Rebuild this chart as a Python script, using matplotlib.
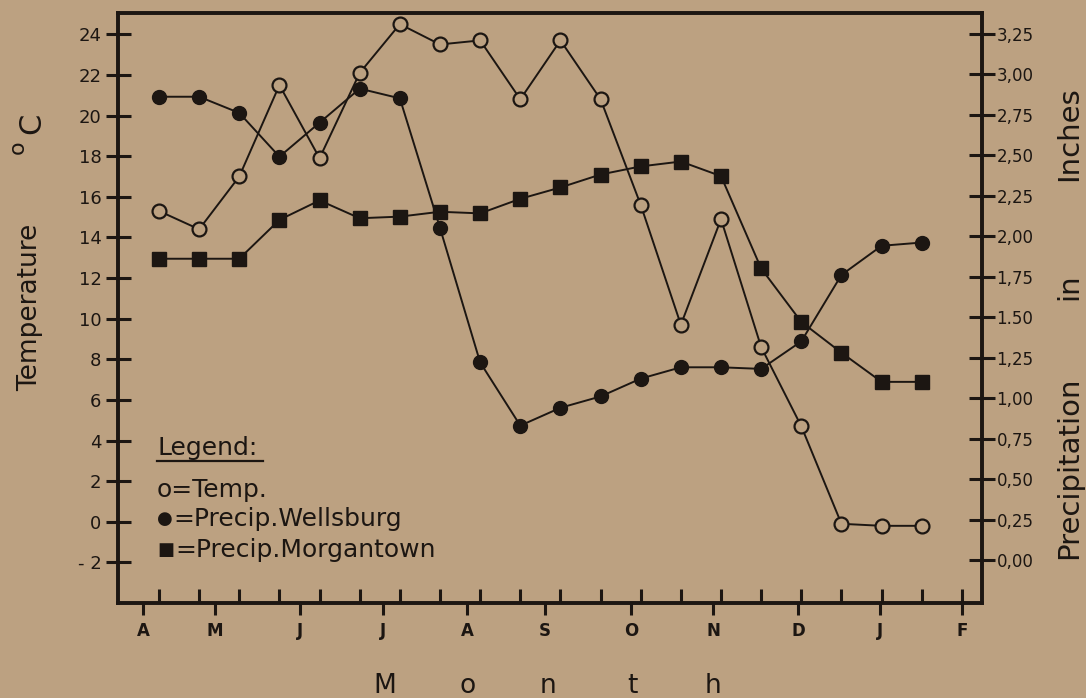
import matplotlib.pyplot as plt
from matplotlib.lines import Line2D
from matplotlib.ticker import FixedLocator
import numpy as np

# Biweekly readings, April through January
temp_c = [15.3, 14.4, 17.0, 21.5, 17.9, 22.1, 24.5, 23.5, 23.7, 20.8,
          23.7, 20.8, 15.6, 9.7, 14.9, 8.6, 4.7, -0.1, -0.2, -0.2]
precip_wellsburg = [2.86, 2.86, 2.76, 2.49, 2.70, 2.91, 2.85, 2.05, 1.22, 0.83,
                    0.94, 1.01, 1.12, 1.19, 1.19, 1.18, 1.35, 1.76, 1.94, 1.96]
precip_morgantown = [1.86, 1.86, 1.86, 2.10, 2.22, 2.11, 2.12, 2.15, 2.14, 2.23,
                     2.30, 2.38, 2.43, 2.46, 2.37, 1.80, 1.47, 1.28, 1.10, 1.10]

month_labels = ["A", "M", "J", "J", "A", "S", "O", "N", "D", "J", "F"]
month_pos = [-0.40, 1.39, 3.51, 5.58, 7.67, 9.61, 11.76, 13.80, 15.92, 17.96, 20.0]

temp_ticks = [-2, 0, 2, 4, 6, 8, 10, 12, 14, 16, 18, 20, 22, 24]
temp_tick_labels = ["- 2", "0", "2", "4", "6", "8", "10", "12", "14", "16",
                    "18", "20", "22", "24"]
precip_ticks = [0.0, 0.25, 0.5, 0.75, 1.0, 1.25, 1.5, 1.75, 2.0, 2.25, 2.5,
                2.75, 3.0, 3.25]
precip_tick_labels = ["0,00", "0,25", "0,50", "0,75", "1,00", "1,25", "1.50",
                      "1,75", "2,00", "2,25", "2,50", "2,75", "3,00", "3,25"]

BG = "#bca181"
INK = "#1c1612"

plt.rcParams["font.family"] = ["DejaVu Sans"]
plt.rcParams["text.color"] = INK

fig = plt.figure(figsize=(10.86, 6.98), dpi=100, facecolor=BG)
ax = fig.add_axes([0.1087, 0.1361, 0.7955, 0.8453], facecolor=BG)
ax2 = ax.twinx()

x = np.arange(len(temp_c))

ax.plot(x, temp_c, color=INK, lw=1.4, marker="o", ms=10,
        mfc=BG, mec=INK, mew=1.6, zorder=3)
ax2.plot(x, precip_wellsburg, color=INK, lw=1.4, marker="o", ms=10,
         mfc=INK, mec=INK, zorder=3)
ax2.plot(x, precip_morgantown, color=INK, lw=1.4, marker="s", ms=9.5,
         mfc=INK, mec=INK, zorder=3)

ax.set_xlim(-1.02, 20.5)
ax.set_ylim(-4, 25.05)
ax2.set_ylim(-0.265, 3.377)

# month marks point down, sampling marks point up
ax.xaxis.remove_overlapping_locs = False
ax.set_xticks(month_pos)
ax.set_xticklabels(month_labels, fontsize=12, fontweight="bold", color=INK)
ax.xaxis.set_minor_locator(FixedLocator(np.arange(len(temp_c) + 1)))
ax.tick_params(axis="x", which="major", direction="out", length=8.5,
               width=2.2, pad=5, color=INK)
ax.tick_params(axis="x", which="minor", direction="in", length=10,
               width=2.2, color=INK)

ax.set_yticks(temp_ticks)
ax.set_yticklabels(temp_tick_labels, fontsize=13, color=INK)
ax.tick_params(axis="y", direction="inout", length=18, width=2.2, pad=3,
               color=INK)

ax2.set_yticks(precip_ticks)
ax2.set_yticklabels(precip_tick_labels, fontsize=12, color=INK)
ax2.tick_params(axis="y", direction="inout", length=19, width=2.2, pad=1,
                color=INK)

for a in (ax, ax2):
    for sp in a.spines.values():
        sp.set_linewidth(2.6)
        sp.set_color(INK)

# axis titles
fig.text(0.0276, 0.560, "Temperature", rotation=90, fontsize=19,
         ha="center", va="center")
fig.text(0.0295, 0.824, "C", rotation=90, fontsize=22, ha="center", va="center")
fig.text(0.0165, 0.789, "o", rotation=90, fontsize=16, ha="center", va="center")

fig.text(0.9845, 0.330, "Precipitation", rotation=90, fontsize=21,
         ha="center", va="center")
fig.text(0.9845, 0.589, "in", rotation=90, fontsize=21, ha="center", va="center")
fig.text(0.9845, 0.808, "Inches", rotation=90, fontsize=21,
         ha="center", va="center")

for letter, xp in zip("Month", [385, 468, 548, 632, 713]):
    fig.text(xp / 1086, 1 - 693 / 698, letter, fontsize=19,
             ha="center", va="baseline")

# hand-lettered key in the lower left corner
lx = 157 / 1086
fig.text(lx, 1 - 455 / 698, "Legend:", fontsize=18, va="baseline")
fig.add_artist(Line2D([lx, 263 / 1086], [1 - 461 / 698, 1 - 461 / 698],
                      color=INK, lw=1.6))
fig.text(lx, 1 - 497 / 698, "o=Temp.", fontsize=18, va="baseline")
fig.text(lx, 1 - 524 / 698, "\u25CF", fontsize=13, va="baseline")
fig.text(173 / 1086, 1 - 526 / 698, "=Precip.Wellsburg", fontsize=18,
         va="baseline")
fig.text(lx, 1 - 555 / 698, "\u25A0", fontsize=13, va="baseline")
fig.text(175 / 1086, 1 - 557 / 698, "=Precip.Morgantown", fontsize=18,
         va="baseline")

fig.savefig("out.png", dpi=100, facecolor=BG)
